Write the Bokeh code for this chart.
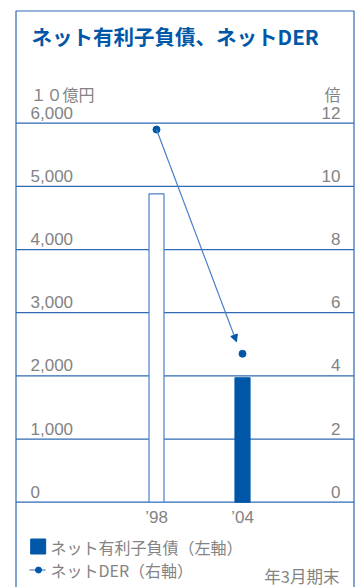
from bokeh.plotting import figure
from bokeh.models import Range1d, Arrow, NormalHead, ColumnDataSource
from bokeh.core.properties import value
from bokeh.embed import file_html
from bokeh.resources import INLINE

# ---- data ----
years = ["’98", "’04"]
net_debt = [4880, 1970]          # 10億円 (left axis)
net_der = [11.8, 4.7]            # 倍 (right axis)
left_ticks = [0, 1000, 2000, 3000, 4000, 5000, 6000]
left_labels = ["0", "1,000", "2,000", "3,000", "4,000", "5,000", "6,000"]
right_ticks = [0, 2, 4, 6, 8, 10, 12]
right_labels = ["0", "2", "4", "6", "8", "10", "12"]
title_text = "ネット有利子負債、ネットDER"
left_unit = "１０億円"
right_unit = "倍"
legend_debt = "ネット有利子負債（左軸）"
legend_der = "ネットDER（右軸）"
x_note = "年3月期末"

# ---- layout (pixels) ----
W, H = 360, 587
ZERO_PX, TOP_PX = 501.7, 122.7            # y px of 0 and 6000
S = (ZERO_PX - TOP_PX) / left_ticks[-1]   # px per unit (left)
Y_END = left_ticks[-1] + TOP_PX / S
Y_START = -(H - ZERO_PX) / S
RATIO = left_ticks[-1] / right_ticks[-1]
BAR0_PX, BAR_STEP = 156, 86
X_START = -BAR0_PX / BAR_STEP
X_END = X_START + W / BAR_STEP
LABEL_GAP = 10.5 / S                       # text centre above gridline

def X(px):
    return X_START + px / BAR_STEP

def Y(py):
    return Y_END - py / S

BLUE = "#0057a8"
LINE_BLUE = "#2f68b3"
LIGHT_BLUE = "#4a80c8"
GRAY = "#838383"
JP = value("Noto Sans CJK JP")
LAT = value("Liberation Sans")

p = figure(width=W, height=H, output_backend="svg", toolbar_location=None,
           x_range=Range1d(X_START, X_END), y_range=Range1d(Y_START, Y_END),
           min_border=0, min_border_left=0, min_border_right=0,
           min_border_top=0, min_border_bottom=0)
p.extra_y_ranges = {"der": Range1d(Y_START / RATIO, Y_END / RATIO)}
p.xaxis.visible = False
p.yaxis.visible = False
p.grid.visible = False
p.outline_line_color = None
p.background_fill_color = "white"

# outer box (left, top, right sides)
p.line([X(15.5), X(15.5), X(353.5), X(353.5)], [Y(H + 2), Y(10.5), Y(10.5), Y(H + 2)],
       line_color=LINE_BLUE, line_width=1.2)

# gridlines
p.segment(x0=[X(15.5)] * len(left_ticks), x1=[X(353.5)] * len(left_ticks),
          y0=left_ticks, y1=left_ticks, line_color=LINE_BLUE, line_width=1.2)

# tick labels
p.text(x=[X(30)] * len(left_ticks), y=[t + LABEL_GAP for t in left_ticks], text=left_labels,
       text_font=LAT, text_font_size="17px", text_color=GRAY,
       text_align="left", text_baseline="middle")
p.text(x=[X(340)] * len(right_ticks), y=[t * RATIO + LABEL_GAP for t in right_ticks],
       text=right_labels, text_font=LAT, text_font_size="17px", text_color=GRAY,
       text_align="right", text_baseline="middle")

# unit labels
p.text(x=[X(30)], y=[Y(93)], text=[left_unit], text_font=JP, text_font_size="16px",
       text_color=GRAY, text_align="left", text_baseline="middle")
p.text(x=[X(340)], y=[Y(93)], text=[right_unit], text_font=JP, text_font_size="16px",
       text_color=GRAY, text_align="right", text_baseline="middle")

# title
p.text(x=[X(31)], y=[Y(35)], text=[title_text], text_font=JP, text_font_size="20.5px",
       text_font_style="bold", text_color=BLUE, text_align="left", text_baseline="middle")

# bars
src = ColumnDataSource(dict(x=list(range(len(years))), top=net_debt, year=years,
                            fill=["white", BLUE], line=[LIGHT_BLUE, BLUE]))
p.vbar(x="x", top="top", bottom=0, width=15 / BAR_STEP, source=src,
       fill_color="fill", line_color="line", line_width=1.2)

# x labels
p.text(x="x", y=Y(517), text="year", source=src, text_font=LAT, text_font_size="17px",
       text_color=GRAY, text_align="center", text_baseline="middle")

# DER points + arrow
p.scatter(x=list(range(len(net_der))), y=net_der, y_range_name="der", size=7,
          fill_color=BLUE, line_color=BLUE)
p.add_layout(Arrow(x_start=0, y_start=net_der[0], x_end=1 - 6 / BAR_STEP,
                   y_end=net_der[1] + 12 / (S * RATIO),
                   y_range_name="der", line_color=LIGHT_BLUE, line_width=1.2,
                   end=NormalHead(size=7, fill_color=BLUE, line_color=BLUE)))

# legend
p.scatter(x=[X(37.7)], y=[Y(546)], marker="square", size=15, fill_color=BLUE, line_color=BLUE)
p.text(x=[X(50)], y=[Y(546)], text=[legend_debt], text_font=JP, text_font_size="16px",
       text_color=GRAY, text_align="left", text_baseline="middle")
p.line([X(29), X(45)], [Y(569.5), Y(569.5)], line_color=LINE_BLUE, line_width=1.2)
p.scatter(x=[X(38)], y=[Y(569.5)], size=6, fill_color=BLUE, line_color=BLUE)
p.text(x=[X(50)], y=[Y(569)], text=[legend_der], text_font=JP, text_font_size="16px",
       text_color=GRAY, text_align="left", text_baseline="middle")
p.text(x=[X(339)], y=[Y(575)], text=[x_note], text_font=JP, text_font_size="16.5px",
       text_color=GRAY, text_align="right", text_baseline="middle")

open("out.html", "w").write(file_html(p, INLINE))
